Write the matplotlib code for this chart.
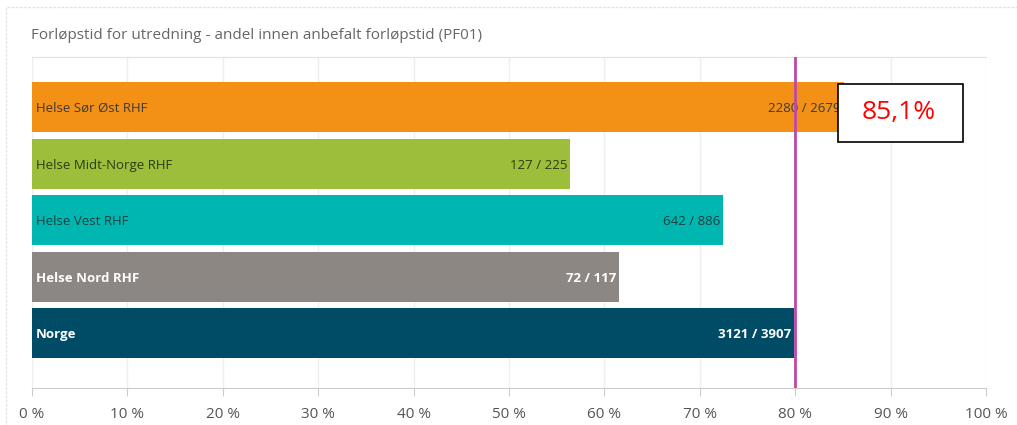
import matplotlib.pyplot as plt
from matplotlib.patches import Rectangle

plt.rcParams['font.family'] = ['Open Sans', 'DejaVu Sans']

# data
regions = ["Helse Sør Øst RHF", "Helse Midt-Norge RHF", "Helse Vest RHF", "Helse Nord RHF", "Norge"]
within = [2280, 127, 642, 72, 3121]
total = [2679, 225, 886, 117, 3907]
colors = ["#F39117", "#9CBE3A", "#00B6B0", "#8C8782", "#004B66"]
text_col = ["#3a3a3a", "#2f3a1a", "#1f3f3f", "white", "white"]
text_bold = [False, False, False, True, True]
target = 80
annot = "85,1%"

pct = [w / t * 100 for w, t in zip(within, total)]

fig = plt.figure(figsize=(10.17, 4.25), dpi=100)
# light outer frame
fig.patches.append(Rectangle((0.006, -0.01), 1.2, 0.993, transform=fig.transFigure,
                             fill=False, edgecolor="#e4e4e4", linewidth=1, linestyle=(0, (2, 1))))
fig.text(0.030, 0.917, "Forløpstid for utredning - andel innen anbefalt forløpstid (PF01)",
         fontsize=11, color="#666666", va="center")

ax = fig.add_axes([0.0315, 0.087, 0.938, 0.779])
y = range(len(regions))
ax.barh(y, pct, height=0.885, color=colors, zorder=2)
ax.set_xlim(0, 100)
ax.set_ylim(len(regions) - 1 + 0.97, -0.885)

for i in y:
    w = "bold" if text_bold[i] else "normal"
    ax.text(0.4, i + 0.03, regions[i], va="center", ha="left", fontsize=9.5,
            color=text_col[i], fontweight=w, zorder=3)
    ax.text(pct[i] - 0.3, i + 0.03, f"{within[i]} / {total[i]}", va="center", ha="right",
            fontsize=9.5, color=text_col[i], fontweight=w, zorder=3)

ax.axvline(target, color="#BE48A6", linewidth=2, zorder=4)

ax.set_xticks(range(0, 101, 10))
ax.set_xticklabels([f"{v} %" for v in range(0, 101, 10)])
ax.tick_params(axis="x", length=6, color="#cccccc", labelsize=11, labelcolor="#555555", pad=8)
ax.set_yticks([])
ax.grid(axis="x", color="#eeeeee", linewidth=1, zorder=0)
for s in ["left", "right"]:
    ax.spines[s].set_visible(False)
ax.spines["top"].set_color("#e0e0e0")
ax.spines["bottom"].set_color("#cccccc")

# annotation box
ax.add_patch(Rectangle((0.845, 0.743), 0.131, 0.175, transform=ax.transAxes,
                       facecolor="white", edgecolor="black", linewidth=1.2, zorder=5, clip_on=False))
ax.text(0.908, 0.833, annot, transform=ax.transAxes, fontsize=19, color="red",
        ha="center", va="center", zorder=6)

fig.savefig("out.png", dpi=100)
